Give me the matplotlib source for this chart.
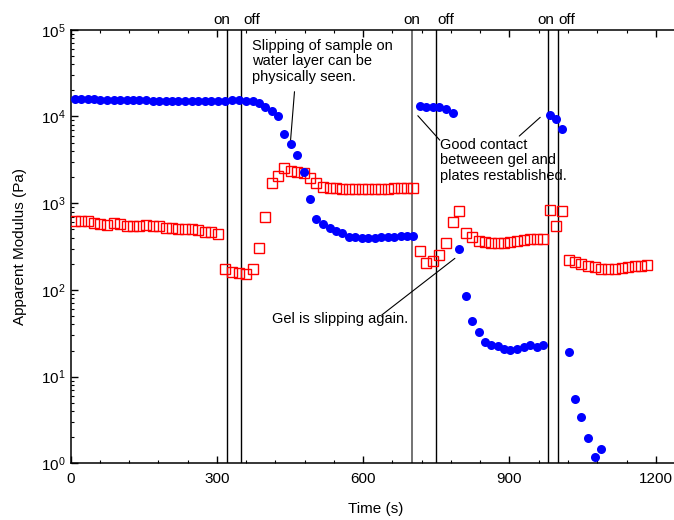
import numpy as np
import matplotlib
matplotlib.use('Agg')
import matplotlib.pyplot as plt
from matplotlib.ticker import LogLocator, MultipleLocator, FuncFormatter, NullFormatter

plt.rcParams['font.family'] = ['Liberation Sans', 'DejaVu Sans']
plt.rcParams['mathtext.fontset'] = 'custom'
plt.rcParams['mathtext.rm'] = 'Liberation Sans'
plt.rcParams['mathtext.it'] = 'Liberation Sans:italic'
plt.rcParams['mathtext.bf'] = 'Liberation Sans:bold'

# ---------------- data ----------------
t_blue = [8, 21, 35, 48, 61, 75, 88, 101, 115, 128, 141, 155, 168, 181, 195, 208, 221, 235, 248, 261,
          275, 288, 302, 316, 330, 345, 359, 373, 387, 399, 412, 425, 438, 451, 465, 478, 491, 504, 518, 531,
          544, 557, 570, 583, 597, 610, 624, 637, 650, 664, 677, 690, 703,
          716, 729, 743, 756, 770, 784, 796, 810, 823, 837, 850, 863, 876, 889, 902, 916, 929, 943, 956, 969,
          983, 995, 1008, 1022, 1034, 1047, 1061, 1075, 1088]
blue = [1.58e4, 1.58e4, 1.57e4, 1.57e4, 1.56e4, 1.56e4, 1.55e4, 1.55e4, 1.54e4, 1.54e4, 1.53e4, 1.53e4,
        1.52e4, 1.52e4, 1.52e4, 1.51e4, 1.51e4, 1.50e4, 1.50e4, 1.49e4, 1.49e4, 1.49e4, 1.50e4,
        1.52e4, 1.53e4, 1.53e4, 1.52e4, 1.50e4,
        1.42e4, 1.29e4, 1.16e4, 1.01e4, 6.2e3, 4.8e3, 3.6e3, 2.3e3, 1.11e3, 652, 570, 521,
        481, 449, 410, 403, 400, 400, 400, 402, 405, 410, 414, 418, 420,
        1.32e4, 1.29e4, 1.29e4, 1.27e4, 1.23e4, 1.09e4, 296, 85, 44.1, 33.0, 25.3, 23.1, 22.5, 20.8, 20.3,
        20.8, 22.1, 23.1, 22.1, 23.1,
        1.04e4, 9.3e3, 7.2e3, 19.1, 5.47, 3.39, 1.94, 1.17, 1.45]

t_red = [8, 21, 35, 48, 61, 75, 88, 101, 115, 128, 141, 155, 168, 181, 195, 208, 221, 235, 248, 261,
         275, 288, 302, 316, 330, 345, 359, 373, 387, 399, 412, 425, 438, 451, 465, 478, 491, 504, 518, 531,
         544, 557, 570, 583, 597, 610, 624, 637, 650, 664, 677, 690, 703,
         716, 729, 743, 756, 770, 784, 796, 810, 823, 837, 850, 863, 876, 889, 902, 916, 929, 943, 956, 969,
         983, 995, 1008, 1022, 1034, 1047, 1061, 1075, 1088, 1103, 1117, 1130, 1144, 1158, 1169, 1182]
red = [627, 627, 617, 596, 570, 560, 590, 570, 545, 548, 545, 555, 540, 540, 521, 513, 504, 500, 500, 486,
       469, 465, 441,
       173, 160, 155, 154, 173,
       306, 687, 1720, 2050, 2520, 2370, 2300, 2210, 1930, 1720, 1550, 1510,
       1480, 1470, 1460, 1460, 1460, 1460, 1470, 1470, 1470, 1480, 1480, 1480, 1490,
       281, 202, 217, 253, 344, 611, 818, 449, 404, 369, 356, 350, 350, 350, 360, 364, 376, 386, 386, 389,
       834, 545, 818, 221, 208, 199, 190, 182, 173, 173, 173, 177, 182, 188, 188, 194]

switch_times = [320, 350, 700, 750, 980, 1000]
switch_labels = ['on', 'off', 'on', 'off', 'on', 'off']
switch_label_x = [309, 371, 699, 769, 974, 1018]

x_ticks = [0, 300, 600, 900, 1200]

# ---------------- figure ----------------
fig = plt.figure(figsize=(6.74, 5.2), dpi=100)
ax = fig.add_axes([0.1049, 0.1090, 0.9042, 0.8338])
ax.set_yscale('log')
ax.set_xlim(0, 1250)
ax.set_ylim(1, 1e5)

for s in ax.spines.values():
    s.set_linewidth(1.1)
ax.spines['right'].set_visible(False)

ax.xaxis.set_major_locator(MultipleLocator(300))
ax.xaxis.set_minor_locator(MultipleLocator(60))
ax.set_xticks(x_ticks)
ax.yaxis.set_major_locator(LogLocator(base=10, numticks=10))
ax.yaxis.set_minor_locator(LogLocator(base=10, subs=np.arange(2, 10), numticks=20))
ax.yaxis.set_minor_formatter(NullFormatter())
ax.yaxis.set_major_formatter(FuncFormatter(lambda v, p: r'$10^{%d}$' % int(round(np.log10(v)))))
ax.tick_params(which='both', direction='in', top=True, right=False, labelsize=11)
ax.tick_params(which='major', length=5, width=1)
ax.tick_params(which='minor', length=2.5, width=0.8)
ax.tick_params(axis='x', pad=6)

for t, c in zip(switch_times, ['k', 'k', '0.45', 'k', 'k', 'k']):
    ax.axvline(t, color=c, lw=1.0 if c == 'k' else 1.4, zorder=1)

for x, lab in zip(switch_label_x, switch_labels):
    ax.text(x, 1.006, lab, transform=ax.get_xaxis_transform(), ha='center', va='bottom',
            fontsize=11, zorder=5, clip_on=False,
            bbox=dict(fc='white', ec='none', pad=0.8))

ax.plot(t_red, red, 's', mfc='none', mec='#ff0000', ms=7, mew=1.0, zorder=3)
ax.plot(t_blue, blue, 'o', color='#0000ff', mec='none', ms=6.5, zorder=4)

# annotations
fs = 10.5
ls = 1.15
ax.text(371, 7.9e4, 'Slipping of sample on\nwater layer can be\nphysically seen.',
        fontsize=fs, ha='left', va='top', linespacing=ls)
ax.annotate('', xy=(450, 4.56e3), xytext=(459, 1.93e4),
            arrowprops=dict(arrowstyle='-', color='k', lw=0.8, shrinkA=0, shrinkB=0))

ax.text(757, 5.7e3, 'Good contact\nbetweeen gel and\nplates restablished.',
        fontsize=fs, ha='left', va='top', linespacing=ls)
ax.annotate('', xy=(712, 1.02e4), xytext=(757, 5.33e3),
            arrowprops=dict(arrowstyle='-', color='k', lw=0.8, shrinkA=0, shrinkB=0))
ax.annotate('', xy=(963, 9.77e3), xytext=(920, 5.94e3),
            arrowprops=dict(arrowstyle='-', color='k', lw=0.8, shrinkA=0, shrinkB=0))

ax.text(412, 55.6, 'Gel is slipping again.', fontsize=fs, ha='left', va='top')
ax.annotate('', xy=(788, 231), xytext=(638, 51.3),
            arrowprops=dict(arrowstyle='-', color='k', lw=0.8, shrinkA=0, shrinkB=0))

ax.set_xlabel('Time (s)', fontsize=11, labelpad=12)
ax.set_ylabel('Apparent Modulus (Pa)', fontsize=11, labelpad=10)

fig.savefig('out.png', dpi=100)
